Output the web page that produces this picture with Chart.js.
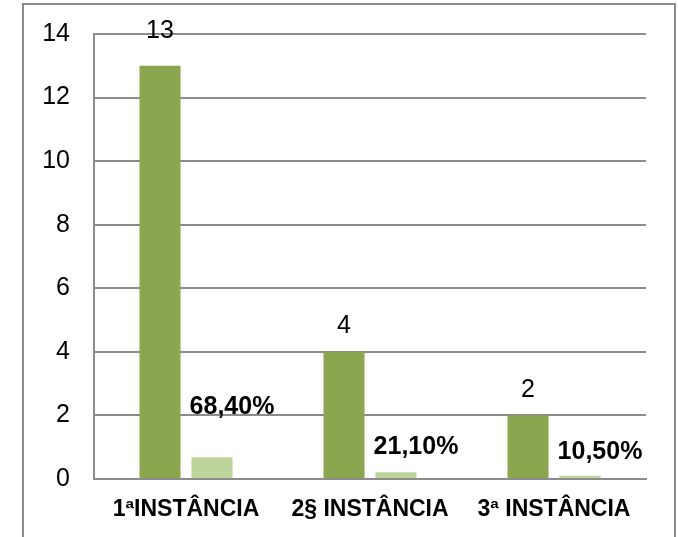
<!DOCTYPE html>
<html>
<head>
<meta charset="utf-8">
<script src="https://cdn.jsdelivr.net/npm/chart.js@4/dist/chart.umd.min.js"></script>
<style>
  html, body { margin: 0; padding: 0; background: #fff; overflow: hidden; }
  #wrap { position: relative; width: 678px; height: 537px; overflow: hidden; }
  #frame { position: absolute; left: 22px; top: 3px; width: 654px; height: 600px; border: 2px solid #8c8c8c; box-sizing: border-box; }
  canvas { position: absolute; left: 0; top: 0; }
</style>
</head>
<body>
<div id="wrap">
  <div id="frame"></div>
  <canvas id="c" width="678" height="537"></canvas>
</div>
<script>
const categories = ["1ªINSTÂNCIA", "2§ INSTÂNCIA", "3ª INSTÂNCIA"];
const counts = [13, 4, 2];
const shares = [0.684, 0.211, 0.105];
const yTicks = [0, 2, 4, 6, 8, 10, 12, 14];

const labelPlugin = {
  id: 'barLabels',
  afterDatasetsDraw(chart, args, opts) {
    const ctx = chart.ctx;
    ctx.save();
    ctx.textAlign = 'center';
    ctx.textBaseline = 'middle';
    ctx.fillStyle = '#000';
    chart.data.datasets.forEach((ds, di) => {
      const meta = chart.getDatasetMeta(di);
      const cfg = opts.sets[di];
      meta.data.forEach((el, i) => {
        ctx.font = cfg.font;
        ctx.fillText(cfg.format(ds.data[i]), el.x + cfg.dx, el.y - cfg.lift[i]);
      });
    });
    ctx.restore();
  }
};

const FONT = '"Liberation Sans", Arial, sans-serif';

new Chart(document.getElementById('c'), {
  type: 'bar',
  data: {
    labels: categories,
    datasets: [
      { data: counts, backgroundColor: '#8AA64F', categoryPercentage: 0.565, barPercentage: 0.79 },
      { data: shares, backgroundColor: '#BDD59B', categoryPercentage: 0.565, barPercentage: 0.79 }
    ]
  },
  plugins: [labelPlugin],
  options: {
    responsive: false,
    animation: false,
    devicePixelRatio: 1,
    layout: { padding: { left: 0, top: 34, right: 32, bottom: 0 } },
    plugins: {
      legend: { display: false },
      tooltip: { enabled: false },
      barLabels: {
        sets: [
          { font: '25px ' + FONT, dx: 0, lift: [35, 26, 25], format: v => String(v) },
          { font: 'bold 25px ' + FONT, dx: 20, lift: [50, 25, 24], format: v => (v * 100).toFixed(2).replace('.', ',') + '%' }
        ]
      }
    },
    scales: {
      x: {
        grid: { display: false, drawTicks: false },
        border: { display: true, color: '#8c8c8c', width: 2 },
        ticks: { color: '#000', font: { family: FONT, size: 23, weight: 'bold' }, padding: 17, maxRotation: 0, autoSkip: false },
        afterFit(scale) { scale.height = 58; scale.paddingLeft = 0; scale.paddingRight = 0; }
      },
      y: {
        min: 0, max: 14,
        afterBuildTicks(scale) { scale.ticks = yTicks.map(v => ({ value: v })); },
        grid: { color: '#8c8c8c', lineWidth: 2, drawTicks: false },
        border: { display: true, color: '#8c8c8c', width: 2 },
        ticks: { color: '#000', font: { family: FONT, size: 25 }, padding: 24 },
        afterFit(scale) { scale.width = 94; scale.paddingTop = 0; scale.paddingBottom = 0; }
      }
    }
  }
});
</script>
</body>
</html>
